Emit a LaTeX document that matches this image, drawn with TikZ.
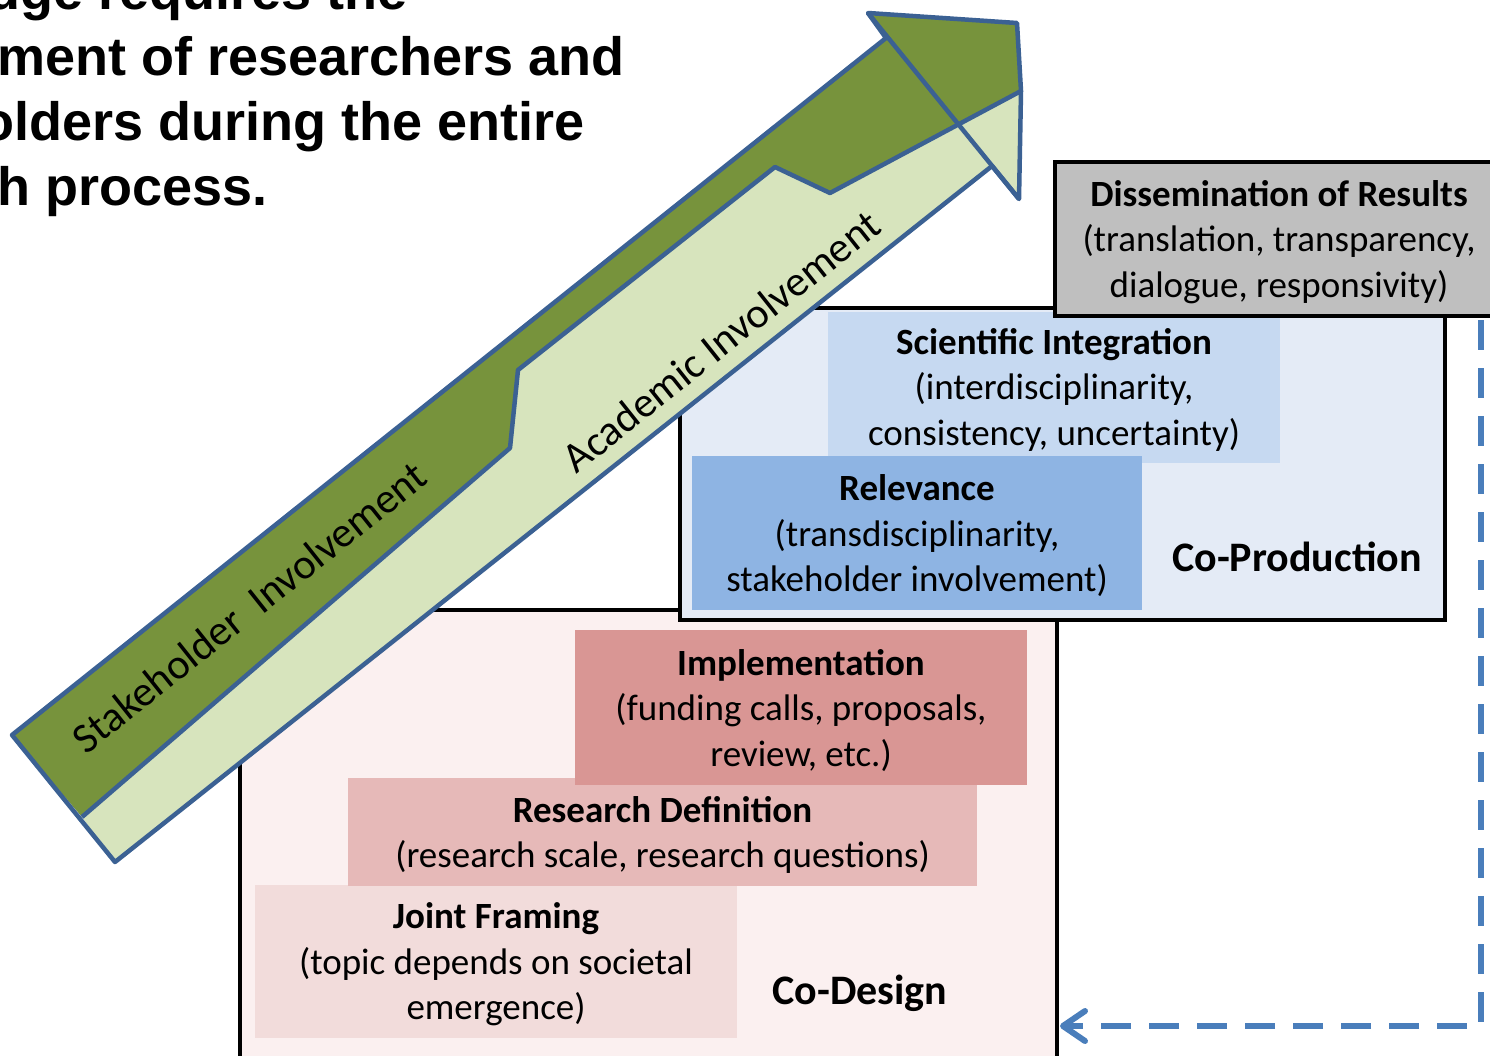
\documentclass[tikz,border=0pt]{standalone}
\usepackage{fontspec}
\setmainfont{Carlito}
\newfontfamily\headfont{Liberation Sans}
\usetikzlibrary{arrows.meta}
\definecolor{cdbg}{HTML}{FBF0F0}
\definecolor{jfcol}{HTML}{F2DCDB}
\definecolor{rdcol}{HTML}{E6B9B8}
\definecolor{imcol}{HTML}{D99694}
\definecolor{cpbg}{HTML}{E4EBF6}
\definecolor{sicol}{HTML}{C6D9F1}
\definecolor{recol}{HTML}{8EB4E3}
\definecolor{dicol}{HTML}{BFBFBF}
\definecolor{darkgr}{HTML}{77933C}
\definecolor{lightgr}{HTML}{D7E4BD}
\definecolor{arrline}{HTML}{3B6193}
\definecolor{dashcol}{HTML}{4A7EBB}
\begin{document}
\begin{tikzpicture}[x=1pt,y=-1pt,
  frame/.style={draw=black,line width=4pt,inner sep=0pt,outer sep=0pt},
  stagebox/.style={inner sep=0pt,outer sep=0pt},
  stagetext/.style={inner sep=0pt,outer sep=0pt,align=center,font=\fontsize{37}{45.5}\selectfont},
  phase/.style={inner sep=0pt,font=\fontsize{42}{50}\selectfont\bfseries},
  bandline/.style={draw=arrline,line width=4.5pt,line join=round},
  bandtext/.style={inner sep=0pt,font=\fontsize{42.5}{50}\selectfont,rotate=38.5},
  headline/.style={font=\headfont\bfseries\fontsize{54}{66}\selectfont,anchor=base east,inner sep=0pt}]
\useasboundingbox (0,0) rectangle (1490,1055);
\clip (0,0) rectangle (1490,1055);

% headline (cut off by the frame)
\node[headline] (h0) at (408,9) {dge requires the};
\node[headline] (h1) at (625,75) {ment of researchers and};
\node[headline] (h2) at (585,140) {olders during the entire};
\node[headline] (h3) at (268,205) {h process.};

% Co-Design
\node[frame,fill=cdbg,minimum width=817pt,minimum height=450pt] (codesignbox) at (648.5,835) {};
\node[stagebox,fill=jfcol,minimum width=482pt,minimum height=153pt] (jf) at (496,961.5) {};
\node[stagebox,fill=rdcol,minimum width=629pt,minimum height=108pt] (rd) at (662.5,832) {};
\node[stagebox,fill=imcol,minimum width=452pt,minimum height=155pt] (im) at (801,707.5) {};
\node[stagetext] (jft) at ([yshift=-3pt]jf.center)
  {\textbf{Joint Framing}\\(topic depends on societal\\emergence)};
\node[stagetext] (rdt) at ([yshift=-3pt]rd.center)
  {\textbf{Research Definition}\\(research scale, research questions)};
\node[stagetext] (imt) at ([yshift=-3pt]im.center)
  {\textbf{Implementation}\\(funding calls, proposals,\\review, etc.)};
\node[phase] (codesign) at (860,993) {Co-Design};

% Co-Production
\node[frame,fill=cpbg,minimum width=765pt,minimum height=312pt] (coprodbox) at (1062.5,464) {};
\node[stagebox,fill=sicol,minimum width=452pt,minimum height=151pt] (si) at (1054,387.5) {};
\node[stagebox,fill=recol,minimum width=450pt,minimum height=154pt] (re) at (917,533) {};
\node[stagetext] (sit) at ([yshift=-2pt]si.center)
  {\textbf{Scientific Integration}\\(interdisciplinarity,\\consistency, uncertainty)};
\node[stagetext] (ret) at ([yshift=-3pt]re.center)
  {\textbf{Relevance}\\(transdisciplinarity,\\stakeholder involvement)};
\node[phase] (coprod) at (1297,557) {Co-Production};

% Dissemination
\node[frame,fill=dicol,minimum width=448pt,minimum height=154pt] (diss) at (1279,239) {};
\node[stagetext] (disst) at ([yshift=-3pt]diss.center)
  {\textbf{Dissemination of Results}\\(translation, transparency,\\dialogue, responsivity)};

% involvement arrow
\fill[darkgr] (12,735) -- (886,38) -- (868,13) -- (1017,23) -- (1021,91) -- (957,125)
  -- (830,193) -- (775,167) -- (518,370) -- (510,448) -- (82,817) -- cycle;
\fill[lightgr] (82,817) -- (510,448) -- (518,370) -- (775,167) -- (830,193) -- (957,125)
  -- (1021,91) -- (1019,199) -- (992,166) -- (115,862) -- cycle;
\draw[bandline] (12,735) -- (886,38) -- (868,13) -- (1017,23) -- (1021,91) -- (1019,199)
  -- (992,166) -- (115,862) -- cycle;
\draw[bandline] (82,817) -- (510,448) -- (518,370) -- (775,167) -- (830,193) -- (1021,91);
\draw[bandline] (868,13) -- (1019,199);
\node[bandtext] (stake) at (249,607) {Stakeholder\ \ Involvement};
\node[bandtext] (acad) at (721,341) {Academic Involvement};

% feedback connector
\coordinate (dcorner) at (1481,1026);
\draw[dashcol,line width=6pt,dash pattern=on 30pt off 18pt,
  -{Straight Barb[length=22pt,width=30pt,round]}]
  ([yshift=-4pt]diss.south -| dcorner) -- (dcorner) -- ([xshift=3pt]codesignbox.east |- dcorner);
\end{tikzpicture}
\end{document}
